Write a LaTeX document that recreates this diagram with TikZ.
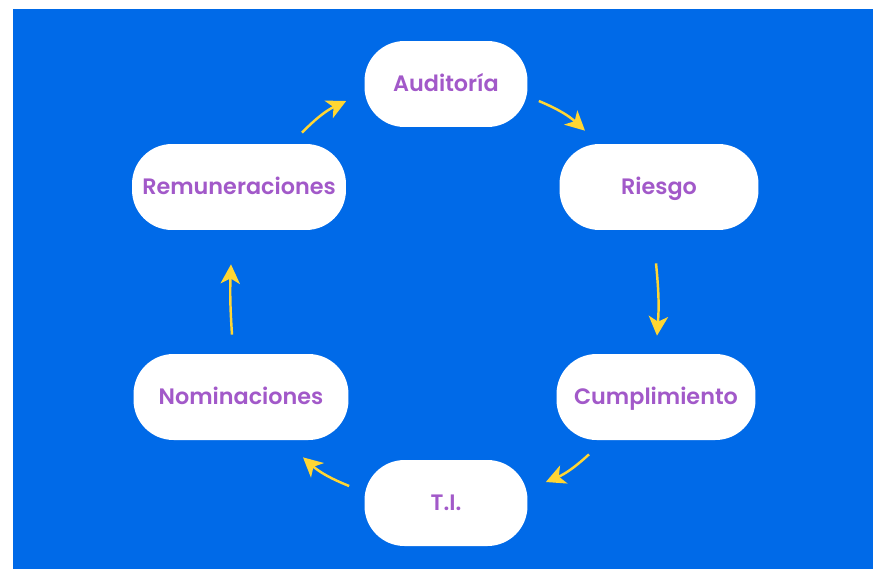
\documentclass[tikz,border=0pt]{standalone}
\usepackage{fontspec}
\setmainfont{Poppins}[BoldFont={Poppins SemiBold}]
\usetikzlibrary{arrows.meta, positioning}
\definecolor{bgblue}{RGB}{0,106,232}
\definecolor{lblpurple}{RGB}{162,89,201}
\definecolor{arrowyellow}{RGB}{255,214,51}
\tikzstyle{area} = [rectangle, fill=white, rounded corners=0.8cm, text centered, minimum height=1.72cm, text height=0.9em, text depth=0pt, text=lblpurple, font=\fontsize{12.7}{15}\selectfont\bfseries]
\tikzstyle{connector} = [draw=arrowyellow, line width=1.4pt, -{Stealth[length=11pt, width=11pt, inset=3pt]}, bend left=10]

\begin{document}
\begin{tikzpicture}[x=0.02cm, y=-0.02cm]
      \useasboundingbox (0,0) rectangle (873,569);
      \fill [bgblue] (13,9) rectangle (873,569);

      % Define nodes at their places on the cycle
      \node (auditoria) [area, minimum width=3.26cm] at (446,84) {Auditoría};
      \node (riesgo) [area, minimum width=3.98cm] at (659,187) {Riesgo};
      \node (cumplimiento) [area, minimum width=3.98cm] at (656,397) {Cumplimiento};
      \node (ti) [area, minimum width=3.26cm] at (446,503) {T.I.};
      \node (nominaciones) [area, minimum width=4.3cm] at (241,397) {Nominaciones};
      \node (remuneraciones) [area, minimum width=4.28cm] at (239,187) {Remuneraciones};

      % Draw connectors
      \draw [connector] ([shift={(63,-11)}]remuneraciones.north) to ([shift={(-18,17)}]auditoria.west);
      \draw [connector] ([shift={(11,17)}]auditoria.east) to ([shift={(-74,-13)}]riesgo.north);
      \draw [connector, bend left=5] ([shift={(-3,33)}]riesgo.south) to ([shift={(1,-18)}]cumplimiento.north);
      \draw [connector] ([shift={(-67,14)}]cumplimiento.south) to ([shift={(18,-21)}]ti.east);
      \draw [connector] ([shift={(-15,-17)}]ti.west) to ([shift={(62,17)}]nominaciones.south);
      \draw [connector, bend left=3] ([shift={(-9,-19)}]nominaciones.north) to ([shift={(-8,34)}]remuneraciones.south);
\end{tikzpicture}
\end{document}
